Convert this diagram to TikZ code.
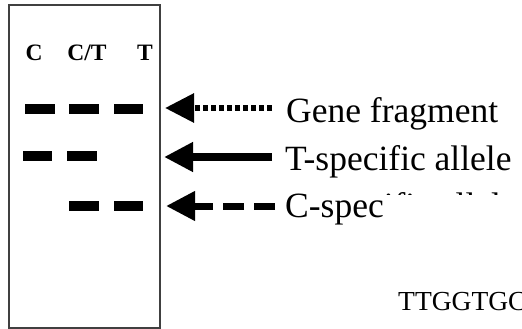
\documentclass[tikz,border=0pt]{standalone}
\usepackage{fontspec}
\setmainfont{Liberation Serif}
\usetikzlibrary{arrows.meta}

\tikzset{
  gelframe/.style={draw=black!75, line width=2pt},
  band/.style={line width=10pt, line cap=butt},
  lane/.style={font=\fontsize{23.5}{26}\selectfont\bfseries, anchor=base, inner sep=0pt},
  caption/.style={font=\fontsize{35.5}{40}\selectfont, anchor=base west, inner sep=0pt},
  head/.style={-{Triangle[length=29pt, width=28pt]}},
  dotline/.style={head, line width=6pt, dash pattern=on 5pt off 3pt},
  fullline/.style={head, line width=8pt},
  dashline/.style={head, line width=7pt, dash pattern=on 21pt off 10pt},
}

\begin{document}
\begin{tikzpicture}[x=1pt, y=-1pt]
  \useasboundingbox (0,0) rectangle (522,329);

  % gel outline
  \draw[gelframe] (9,5) rectangle (160,328);

  % lane headings
  \node[lane] (laneC)  at (34,60)  {C};
  \node[lane] (laneCT) at (87,60)  {C/T};
  \node[lane] (laneT)  at (145,60) {T};

  % bands: whole fragment
  \draw[band] (25,109) -- (55,109);
  \draw[band] (69,109) -- (99,109);
  \draw[band] (114,109) -- (143,109);
  % bands: T-specific product
  \draw[band] (23,156) -- (52,156);
  \draw[band] (67,156) -- (97,156);
  % bands: C-specific product
  \draw[band] (69,206) -- (99,206);
  \draw[band] (114,206) -- (143,206);

  % legend captions
  \node[caption] (gene) at (286,122) {Gene fragment};
  \node[caption] (tal)  at (285,170) {T-specific allele};
  \node[caption] (cal)  at (285,217) {C-specific allele};

  % legend arrows
  \coordinate (g0) at (272,108);
  \coordinate (g1) at (165,108);
  \coordinate (t0) at (272,157);
  \coordinate (t1) at (164,157);
  \coordinate (c0) at (275,206);
  \coordinate (c1) at (166,206);
  \draw[dotline]  (g0) -- (g1);
  \draw[fullline] (t0) -- (t1);
  \draw[dashline] (c0) -- (c1);

  % white patch over the rest of the last caption
  \fill[white] (382.5,195) rectangle (522,262);

  % sequence fragment at the lower right
  \node[font=\fontsize{27.5}{30}\selectfont, anchor=base west, inner sep=0pt] (seq) at (398,310) {TTGGTGC};
\end{tikzpicture}
\end{document}
